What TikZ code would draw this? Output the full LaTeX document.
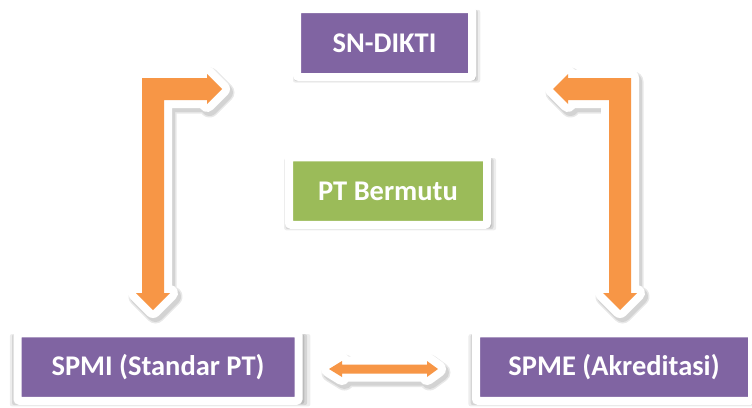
\documentclass[tikz,border=0pt]{standalone}
\usepackage{fontspec}
\setmainfont{Carlito}
\usetikzlibrary{shadows}
\definecolor{boxpurple}{HTML}{8064A2}
\definecolor{boxgreen}{HTML}{9BBB59}
\definecolor{arroworange}{HTML}{F79646}
\tikzset{
  softshadow/.style={
    drop shadow={shadow xshift=2pt, shadow yshift=-3pt, shadow scale=1.07, opacity=0.07, fill=black},
    drop shadow={shadow xshift=1.5pt, shadow yshift=-2.5pt, shadow scale=1.05, opacity=0.10, fill=black},
    drop shadow={shadow xshift=1.5pt, shadow yshift=-2pt, shadow scale=1.03, opacity=0.12, fill=black}},
  framebox/.style={rectangle, draw=white, line width=8pt, rounded corners=2pt,
    text=white, font=\fontsize{28.5}{32}\selectfont\bfseries, inner sep=0pt, softshadow},
  purplebox/.style={framebox, fill=boxpurple},
  greenbox/.style={framebox, fill=boxgreen},
  arrowshadow/.style={draw=black, draw opacity=0.09, line width=#1, line join=round, fill=black, fill opacity=0.09},
  arrowframe/.style={draw=white, line width=16pt, line join=round, fill=white},
  arrowbody/.style={fill=arroworange},
}
\begin{document}
\begin{tikzpicture}[x=1pt,y=-1pt]
\useasboundingbox (0,0) rectangle (752,407);
% boxes
\node[purplebox, minimum width=175pt, minimum height=68pt] (sndikti) at (384.5,43) {SN-DIKTI};
\node[greenbox, minimum width=198pt, minimum height=67.5pt] (ptb) at (388,191) {PT Bermutu};
\node[purplebox, minimum width=281pt, minimum height=67.5pt] (spmi) at (158,367) {SPMI (Standar PT)};
\node[purplebox, minimum width=276pt, minimum height=67.5pt] (spme) at (614,367) {SPME (Akreditasi)};
% block arrows
\def\leftarr{(142,78) -- (207,78) -- (207,74) -- (222,89) -- (207,104) -- (207,100) -- (164,100) -- (164,293) -- (170,293) -- (153,310) -- (136,293) -- (142,293) -- cycle}
\def\rightarr{(631,78) -- (568,78) -- (568,74) -- (553,89) -- (568,104) -- (568,100) -- (609,100) -- (609,293) -- (603,293) -- (620,310) -- (637,293) -- (631,293) -- cycle}
\def\midarr{(329,369) -- (342,361) -- (342,364.5) -- (427,364.5) -- (427,361) -- (438,369) -- (427,377) -- (427,373.5) -- (342,373.5) -- (342,377) -- cycle}
\begin{scope}[shift={(2.5,3.5)}]
  \path[arrowshadow=20pt] \leftarr;
  \path[arrowshadow=20pt] \rightarr;
  \path[arrowshadow=20pt] \midarr;
  \path[arrowshadow=17pt] \leftarr;
  \path[arrowshadow=17pt] \rightarr;
  \path[arrowshadow=17pt] \midarr;
\end{scope}
\path[arrowframe] \leftarr;
\path[arrowframe] \rightarr;
\path[arrowframe] \midarr;
\path[arrowbody] \leftarr;
\path[arrowbody] \rightarr;
\path[arrowbody] \midarr;
\end{tikzpicture}
\end{document}
